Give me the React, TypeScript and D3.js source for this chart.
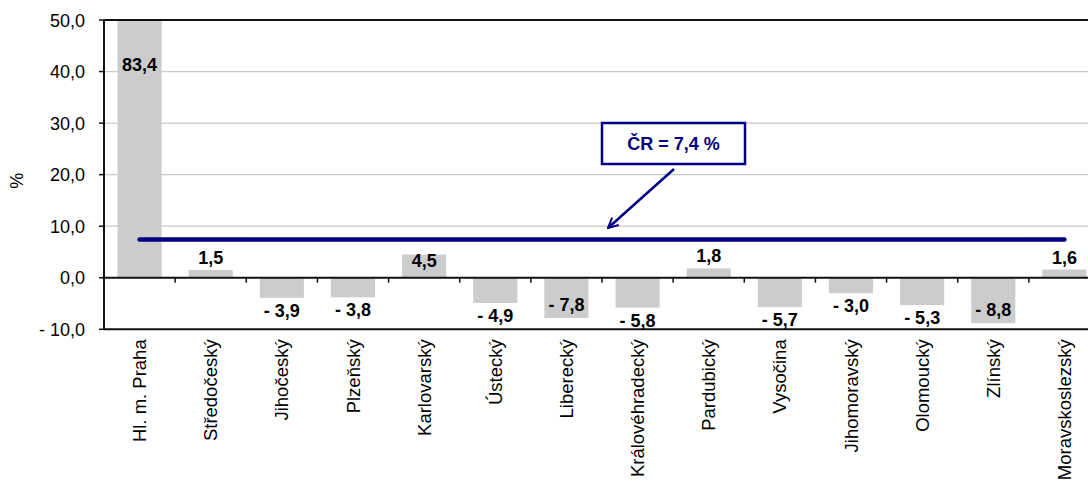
import React from "react";
import * as d3 from "d3";

const categories = [
  "Hl. m. Praha", "Středočeský", "Jihočeský", "Plzeňský", "Karlovarský", "Ústecký",
  "Liberecký", "Královéhradecký", "Pardubický", "Vysočina", "Jihomoravský",
  "Olomoucký", "Zlínský", "Moravskoslezský",
];
const values = [83.4, 1.5, -3.9, -3.8, 4.5, -4.9, -7.8, -5.8, 1.8, -5.7, -3.0, -5.3, -8.8, 1.6];
const yTicks = [-10, 0, 10, 20, 30, 40, 50];
const crValue = 7.4;
const crLabel = "ČR = 7,4 %";
const yTitle = "%";

const W = 1088, H = 483;
const left = 104, right = 1100, top = 20, bottom = 329.3;
const FONT = "Arial, 'Liberation Sans', sans-serif";

const fmt = (v: number) => {
  const s = Math.abs(v).toFixed(1).replace(".", ",");
  return v < 0 ? "- " + s : s;
};

export default function App() {
  const x = d3.scaleBand<string>().domain(categories).range([left, right]).paddingInner(0.38).paddingOuter(0.19);
  const y = d3.scaleLinear().domain([-10, 50]).range([bottom, top]);
  const step = x.step();
  const bw = x.bandwidth();
  const y0 = y(0);

  const firstC = x(categories[0])! + bw / 2;
  const lastC = x(categories[categories.length - 1])! + bw / 2;
  const yCR = y(crValue);

  // annotation box
  const boxX = 602, boxY = 123, boxW = 143, boxH = 41;
  const arrowStart = [674, 169];
  const arrowEnd = [608, 228];

  return (
    <svg width={W} height={H} style={{ position: "absolute", left: 0, top: 0 }} fontFamily={FONT}>
      <defs>
        <clipPath id="plot">
          <rect x={left} y={top} width={right - left} height={bottom - top} />
        </clipPath>
        <marker id="arr" viewBox="0 0 12 12" refX="11" refY="6" markerWidth="12" markerHeight="12" markerUnits="userSpaceOnUse" orient="auto">
          <path d="M1,1 L11,6 L1,11" fill="none" stroke="#000080" strokeWidth="2" />
        </marker>
      </defs>
      <rect width={W} height={H} fill="#fff" />
      {/* gridlines */}
      {yTicks.filter(t => t !== 0 && t !== -10 && t !== 50).map(t => (
        <line key={t} x1={left} x2={right} y1={y(t)} y2={y(t)} stroke="#c8c8c8" strokeWidth={1.2} />
      ))}
      {/* bars */}
      <g clipPath="url(#plot)">
        {values.map((v, i) => (
          <rect key={i} x={x(categories[i])!} width={bw}
            y={Math.min(y(v), y0)} height={Math.abs(y(v) - y0)} fill="#cccccc" />
        ))}
      </g>
      {/* frame */}
      <line x1={left} x2={right} y1={top} y2={top} stroke="#111" strokeWidth={2} />
      <line x1={left} x2={right} y1={bottom} y2={bottom} stroke="#111" strokeWidth={2} />
      <line x1={left} x2={left} y1={top} y2={bottom} stroke="#111" strokeWidth={2} />
      {/* zero axis */}
      <line x1={left} x2={right} y1={y0} y2={y0} stroke="#111" strokeWidth={2} />
      {categories.slice(1).map((c, i) => {
        const bx = left + (i + 1) * step;
        return <line key={c} x1={bx} x2={bx} y1={y0} y2={y0 + 5} stroke="#111" strokeWidth={1.5} />;
      })}
      {/* y ticks */}
      {yTicks.map(t => (
        <g key={t}>
          <line x1={left - 5} x2={left} y1={y(t)} y2={y(t)} stroke="#111" strokeWidth={1.5} />
          <text x={85} y={y(t) + 6.5} textAnchor="end" fontSize={18} fill="#000">{fmt(t)}</text>
        </g>
      ))}
      <text transform={`translate(23,${(top + bottom) / 2 + 6}) rotate(-90)`} textAnchor="middle" fontSize={18} fill="#000">{yTitle}</text>
      {/* category labels */}
      {categories.map(c => (
        <text key={c} transform={`translate(${x(c)! + bw / 2 + 6.5},${bottom + 10}) rotate(-90)`}
          textAnchor="end" fontSize={18.5} fill="#000">{c}</text>
      ))}
      {/* CR line */}
      <line x1={firstC} x2={lastC} y1={yCR} y2={yCR} stroke="#000080" strokeWidth={4.5} strokeLinecap="round" />
      {/* value labels */}
      {values.map((v, i) => {
        const cx = x(categories[i])! + bw / 2;
        let ty: number;
        if (v > 50) ty = y(50) + 51;
        else if (v >= 0) {
          const above = y(v) - 6;
          ty = above - 14 < yCR + 4 ? y(v) + 12 : above;
        } else {
          const below = y(v) + 19;
          ty = below > bottom - 2 ? y(v) - 7 : below;
        }
        return <text key={i} x={cx} y={ty} textAnchor="middle" fontSize={18} fontWeight="bold" fill="#000">{fmt(v)}</text>;
      })}
      {/* annotation */}
      <rect x={boxX} y={boxY} width={boxW} height={boxH} fill="#fff" stroke="#000080" strokeWidth={2.5} />
      <text x={boxX + boxW / 2} y={boxY + boxH / 2 + 6.5} textAnchor="middle" fontSize={18} fontWeight="bold" fill="#000080">{crLabel}</text>
      <line x1={arrowStart[0]} y1={arrowStart[1]} x2={arrowEnd[0]} y2={arrowEnd[1]} stroke="#000080" strokeWidth={2.5} markerEnd="url(#arr)" />
    </svg>
  );
}
